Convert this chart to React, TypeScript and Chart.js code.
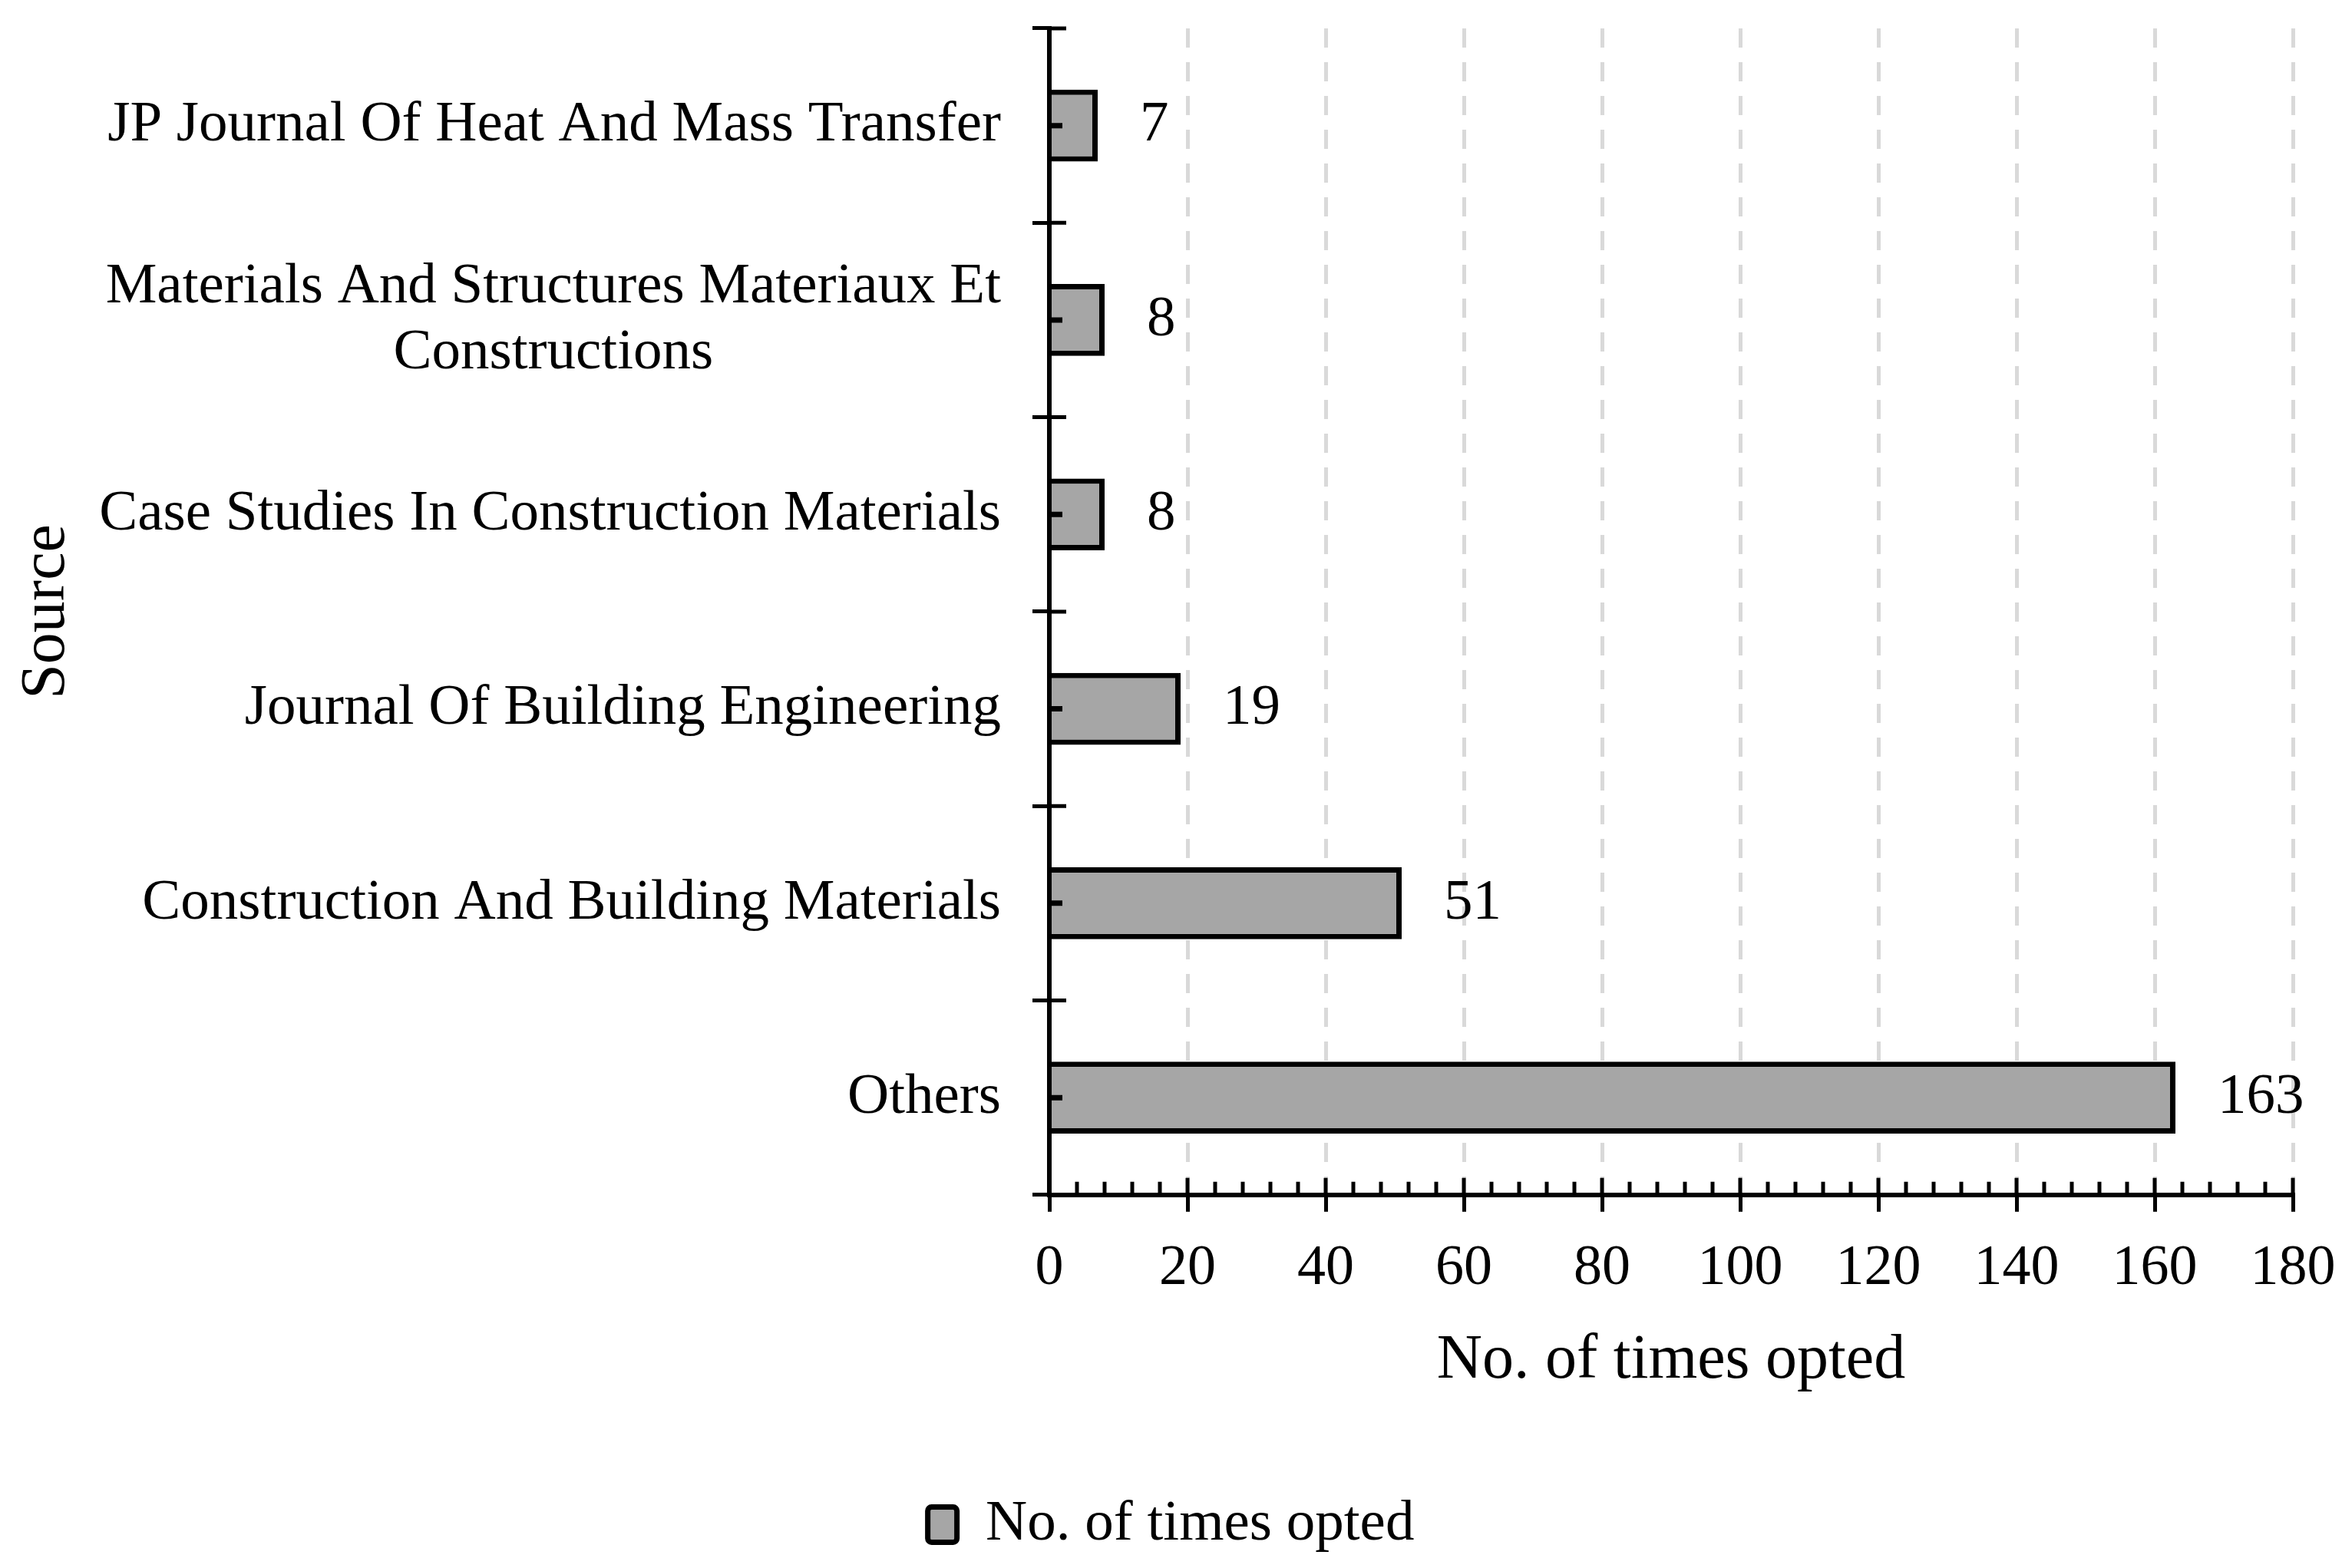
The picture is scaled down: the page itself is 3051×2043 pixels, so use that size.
import { useEffect, useRef } from "react";
import Chart from "chart.js/auto";

// categories, top to bottom
const sources: (string | string[])[] = [
  "JP Journal Of Heat And Mass Transfer",
  ["Materials And Structures Materiaux Et", "Constructions"],
  "Case Studies In Construction Materials",
  "Journal Of Building Engineering",
  "Construction And Building Materials",
  "Others",
];
const timesOpted = [7, 8, 8, 19, 51, 163];
const seriesName = "No. of times opted";
const xAxisTitle = "No. of times opted";
const yAxisTitle = "Source";
const xMin = 0;
const xMax = 180;
const xStep = 20;
const xMinorStep = 4;

const FONT = "'Liberation Serif', 'Times New Roman', serif";

const decorations = {
  id: "decorations",
  afterDatasetsDraw(chart: any) {
    const { ctx, chartArea } = chart;
    const x = chart.scales.x;
    const y = chart.scales.y;
    ctx.save();
    ctx.strokeStyle = "#000";
    ctx.lineWidth = 5;
    ctx.beginPath();
    // upper half of the major x ticks + minor ticks
    for (let v = xMin; v <= xMax; v += xMinorStep) {
      const px = x.getPixelForValue(v);
      const len = v % xStep === 0 ? 22 : 17;
      ctx.moveTo(px, chartArea.bottom);
      ctx.lineTo(px, chartArea.bottom - len);
    }
    // inner half of the category boundary ticks
    const half = Math.abs(y.getPixelForValue(1) - y.getPixelForValue(0)) / 2;
    for (let i = 0; i < sources.length; i++) {
      const py = y.getPixelForValue(i) - half;
      ctx.moveTo(chartArea.left, py);
      ctx.lineTo(chartArea.left + 22, py);
    }
    ctx.stroke();
    // small marks at category centres
    ctx.lineWidth = 7;
    ctx.beginPath();
    for (let i = 0; i < sources.length; i++) {
      const py = y.getPixelForValue(i);
      ctx.moveTo(chartArea.left, py);
      ctx.lineTo(chartArea.left + 17, py);
    }
    ctx.stroke();
    // redraw the y axis line over the bars
    ctx.lineWidth = 6;
    ctx.beginPath();
    ctx.moveTo(chartArea.left, chartArea.top);
    ctx.lineTo(chartArea.left, chartArea.bottom);
    ctx.stroke();

    // value labels
    ctx.fillStyle = "#000";
    ctx.font = `75px ${FONT}`;
    ctx.textAlign = "left";
    ctx.textBaseline = "middle";
    const meta = chart.getDatasetMeta(0);
    meta.data.forEach((bar: any, i: number) => {
      ctx.fillText(String(timesOpted[i]), bar.x + 55, bar.y);
    });
    ctx.restore();
  },
  afterDraw(chart: any) {
    const { ctx, chartArea } = chart;
    const y = chart.scales.y;
    ctx.save();
    ctx.fillStyle = "#000";
    ctx.font = `75px ${FONT}`;
    ctx.textAlign = "center";
    ctx.textBaseline = "middle";
    sources.forEach((label, i) => {
      const lines = Array.isArray(label) ? label : [label];
      const w = Math.max(...lines.map((l) => ctx.measureText(l).width));
      const cx = chartArea.left - 63 - w / 2;
      const cy = y.getPixelForValue(i);
      lines.forEach((line, j) => {
        ctx.fillText(line, cx, cy + (j - (lines.length - 1) / 2) * 86);
      });
    });
    ctx.restore();
  },
};

const SourceChart = () => {
  const chartRef = useRef<HTMLCanvasElement>(null);
  const chartInstance = useRef<Chart | null>(null);

  useEffect(() => {
    document.body.style.margin = "0";
    document.body.style.overflow = "hidden";
    if (!chartRef.current) return;
    if (chartInstance.current) chartInstance.current.destroy();

    chartInstance.current = new Chart(chartRef.current, {
      type: "bar",
      data: {
        labels: sources,
        datasets: [
          {
            label: seriesName,
            data: timesOpted,
            backgroundColor: "#a6a6a6",
            borderColor: "#000",
            borderWidth: 7,
            borderSkipped: "start",
            barPercentage: 0.37,
            categoryPercentage: 1,
          },
        ],
      },
      options: {
        indexAxis: "y",
        responsive: false,
        animation: false,
        devicePixelRatio: 1,
        layout: { padding: { top: 37, right: 0, bottom: 9, left: 0 } },
        plugins: {
          legend: {
            position: "bottom",
            labels: {
              font: { family: FONT, size: 75 },
              color: "#000",
              boxWidth: 38,
              boxHeight: 46,
              padding: 96,
              useBorderRadius: true,
              borderRadius: 5,
            },
          },
          tooltip: { enabled: false },
        },
        scales: {
          x: {
            min: xMin,
            max: xMax,
            ticks: {
              stepSize: xStep,
              padding: 30,
              color: "#000",
              font: { family: FONT, size: 74 },
            },
            grid: {
              color: "#d9d9d9",
              lineWidth: 5,
              tickLength: 22,
              tickColor: "#000",
              tickWidth: 5,
              tickBorderDash: [],
            } as any,
            border: { color: "#000", width: 6, dash: [25, 19] },
            title: {
              display: true,
              text: xAxisTitle,
              color: "#000",
              font: { family: FONT, size: 82 },
              padding: { top: -3, bottom: 30 },
            },
            afterFit(scale: any) {
              scale.paddingRight = 64;
            },
          },
          y: {
            ticks: { display: false },
            grid: {
              drawOnChartArea: false,
              tickLength: 22,
              tickColor: "#000",
              tickWidth: 5,
              offset: true,
            },
            border: { color: "#000", width: 6 },
            title: {
              display: true,
              text: yAxisTitle,
              color: "#000",
              font: { family: FONT, size: 82 },
              padding: { top: 12, bottom: 0 },
            },
            afterFit(scale: any) {
              scale.width = 1367;
            },
          },
        },
      },
      plugins: [decorations],
    });

    return () => {
      if (chartInstance.current) {
        chartInstance.current.destroy();
        chartInstance.current = null;
      }
    };
  }, []);

  return (
    <div style={{ width: 3051, height: 2043, background: "#fff" }}>
      <canvas ref={chartRef} width={3051} height={2043} style={{ display: "block" }} />
    </div>
  );
};

export default function App() {
  return <SourceChart />;
}
